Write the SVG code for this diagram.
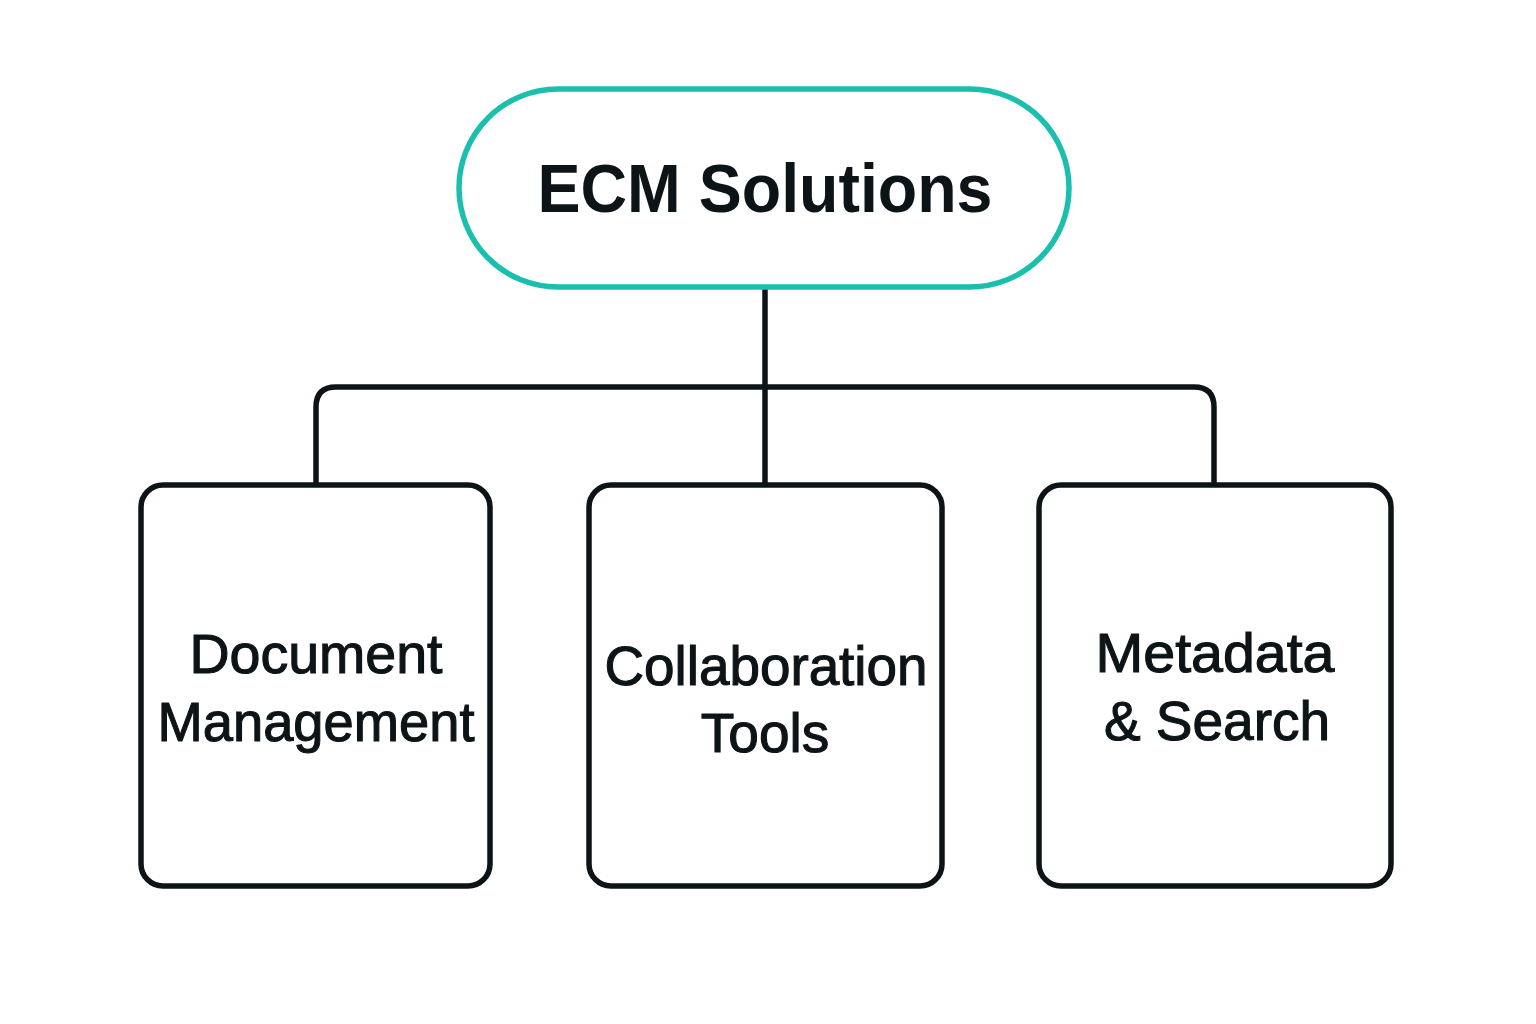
<svg xmlns="http://www.w3.org/2000/svg" width="1536" height="1024" viewBox="0 0 1536 1024">
<style>
.box{fill:#fff;stroke:#0d1417;stroke-width:5.5}
.pill{fill:#fff;stroke:#1bbfae;stroke-width:5.5}
.conn{fill:none;stroke:#0d1417;stroke-width:5.5}
.t{font-family:"Liberation Sans",Arial,sans-serif;fill:#0d1417;text-anchor:middle}
.title{font-size:68px;font-weight:bold}
.lbl{font-size:55px;stroke:#0d1417;stroke-width:1.1}
</style>
<rect width="1536" height="1024" fill="#fff"/>
<g id="connectors">
<path class="conn" d="M765 287 V485"/>
<path class="conn" d="M316 485 V407 Q316 387 336 387 H1194 Q1214 387 1214 407 V485"/>
</g>
<g id="ecm">
<rect class="pill" x="459" y="89" width="610" height="198" rx="99"/>
<text class="t title" x="765" y="212" textLength="455" lengthAdjust="spacingAndGlyphs">ECM Solutions</text>
</g>
<g id="doc">
<rect class="box" x="141" y="485" width="349" height="401" rx="22"/>
<text class="t lbl" x="316" y="673" textLength="253" lengthAdjust="spacingAndGlyphs">Document</text>
<text class="t lbl" x="316" y="741" textLength="317" lengthAdjust="spacingAndGlyphs">Management</text>
</g>
<g id="collab">
<rect class="box" x="589" y="485" width="353" height="401" rx="22"/>
<text class="t lbl" x="766" y="685" textLength="323" lengthAdjust="spacingAndGlyphs">Collaboration</text>
<text class="t lbl" x="765" y="752">Tools</text>
</g>
<g id="meta">
<rect class="box" x="1039" y="485" width="352" height="401" rx="22"/>
<text class="t lbl" x="1215" y="672" textLength="239" lengthAdjust="spacingAndGlyphs">Metadata</text>
<text class="t lbl" x="1217" y="740">&amp; Search</text>
</g>
</svg>
